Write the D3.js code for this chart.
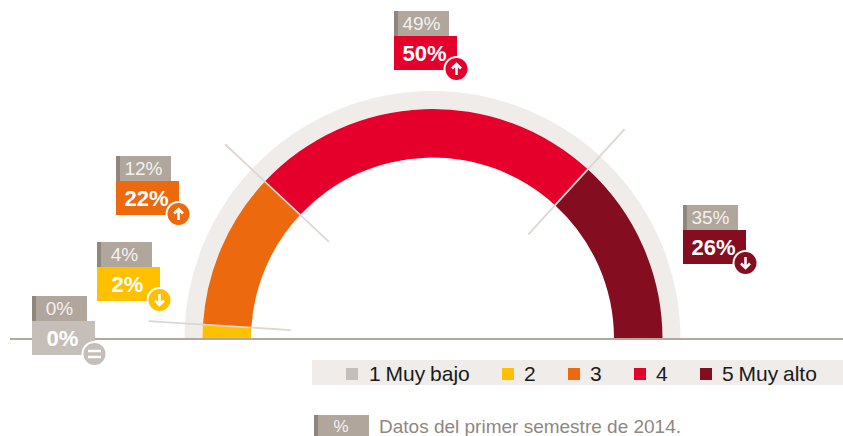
<!DOCTYPE html>
<html><head><meta charset="utf-8">
<script src="https://cdn.jsdelivr.net/npm/d3@7"></script>
<style>html,body{margin:0;padding:0;background:#fff}svg{display:block}text{font-family:"Liberation Sans",Arial,sans-serif}</style>
</head><body><svg id="c" width="843" height="436"></svg>
<script>
const categories=["1 Muy bajo","2","3","4","5 Muy alto"];
const current=[0,2,22,49.6,26.4];
const previous=[0,4,12,49,35];
const trend=["same","down","up","up","down"];
const colors=["#c6bfb9","#ffc000","#ec690d","#e4002b","#840d20"];
const labelAnchors=[[32,296],[97,242],[116,156],[394,11],[683,205]];
const legendSwatchX=[346,502,568,634,700];
const legendTextX=[369,524,590,656,722];
const note="Datos del primer semestre de 2014.";

const svg=d3.select("#c");
const cx=432.5,cy=339;
const pie=d3.pie().sort(null).value(d=>d).startAngle(-Math.PI/2).endAngle(Math.PI/2);
const arcs=pie(current);

svg.append("path").attr("transform",`translate(${cx},${cy})`)
  .attr("d",d3.arc()({innerRadius:230,outerRadius:248,startAngle:-Math.PI/2,endAngle:Math.PI/2}))
  .attr("fill","#f0ece9");
const arc=d3.arc().innerRadius(181.5).outerRadius(230);
svg.append("g").attr("transform",`translate(${cx},${cy})`).selectAll("path").data(arcs).join("path")
  .attr("d",arc).attr("fill",(d,i)=>colors[i]);
const sepG=svg.append("g").attr("transform",`translate(${cx},${cy})`);
arcs.slice(1,4).forEach(a=>{
  const p0=d3.pointRadial(a.endAngle,142),p1=d3.pointRadial(a.endAngle,284.5);
  sepG.append("line").attr("x1",p0[0]).attr("y1",p0[1]).attr("x2",p1[0]).attr("y2",p1[1])
    .attr("stroke","#dcd7d1").attr("stroke-width",1.8);
});
svg.append("line").attr("x1",10).attr("x2",843).attr("y1",339).attr("y2",339).attr("stroke","#b3a89e").attr("stroke-width",2);

const tags=svg.append("g").selectAll("g").data(current).join("g")
  .attr("transform",(d,i)=>`translate(${labelAnchors[i]})`);
tags.append("rect").attr("width",55).attr("height",25).attr("fill","#b0a69c");
tags.append("rect").attr("width",4).attr("height",25).attr("fill","#8f867e");
tags.append("text").attr("x",27.5).attr("y",19).attr("font-size",19).attr("text-anchor","middle").attr("fill","#f4f1ee")
  .text((d,i)=>previous[i]+"%");
tags.append("rect").attr("y",25).attr("width",63).attr("height",34).attr("fill",(d,i)=>colors[i]);
tags.append("text").attr("x",30.5).attr("y",49.5).attr("font-size",22).attr("font-weight","bold").attr("text-anchor","middle").attr("fill","#fff")
  .text(d=>Math.round(d)+"%");
const ic=tags.append("g").attr("transform","translate(62.5,58)");
ic.append("circle").attr("r",13).attr("fill","#fff");
ic.append("circle").attr("r",11).attr("fill",(d,i)=>colors[i]);
ic.append("path").attr("fill","none").attr("stroke","#fff").attr("stroke-width",2.6)
  .attr("d",(d,i)=>trend[i]==="up"?"M0,6V-5M-4.5,-0.5L0,-5L4.5,-0.5":trend[i]==="down"?"M0,-6V5M-4.5,0.5L0,5L4.5,0.5":"M-6.5,-3H6.5M-6.5,3H6.5");

svg.append("rect").attr("x",312).attr("y",360).attr("width",531).attr("height",25).attr("fill","#f0ece9");
const lg=svg.append("g").selectAll("g").data(categories).join("g");
lg.append("rect").attr("x",(d,i)=>legendSwatchX[i]).attr("y",368).attr("width",12).attr("height",12).attr("fill",(d,i)=>colors[i]);
lg.append("text").attr("x",(d,i)=>legendTextX[i]).attr("y",381).attr("font-size",21).attr("word-spacing",-1).attr("fill","#1a1a1a").text(d=>d);

svg.append("rect").attr("x",314).attr("y",415).attr("width",55).attr("height",21).attr("fill","#b0a69c");
svg.append("rect").attr("x",314).attr("y",415).attr("width",4).attr("height",21).attr("fill","#8f867e");
svg.append("text").attr("x",341).attr("y",432).attr("font-size",17).attr("text-anchor","middle").attr("fill","#f4f1ee").text("%");
svg.append("text").attr("x",379).attr("y",433).attr("font-size",19).attr("fill","#8f8780").text(note);
</script></body></html>
